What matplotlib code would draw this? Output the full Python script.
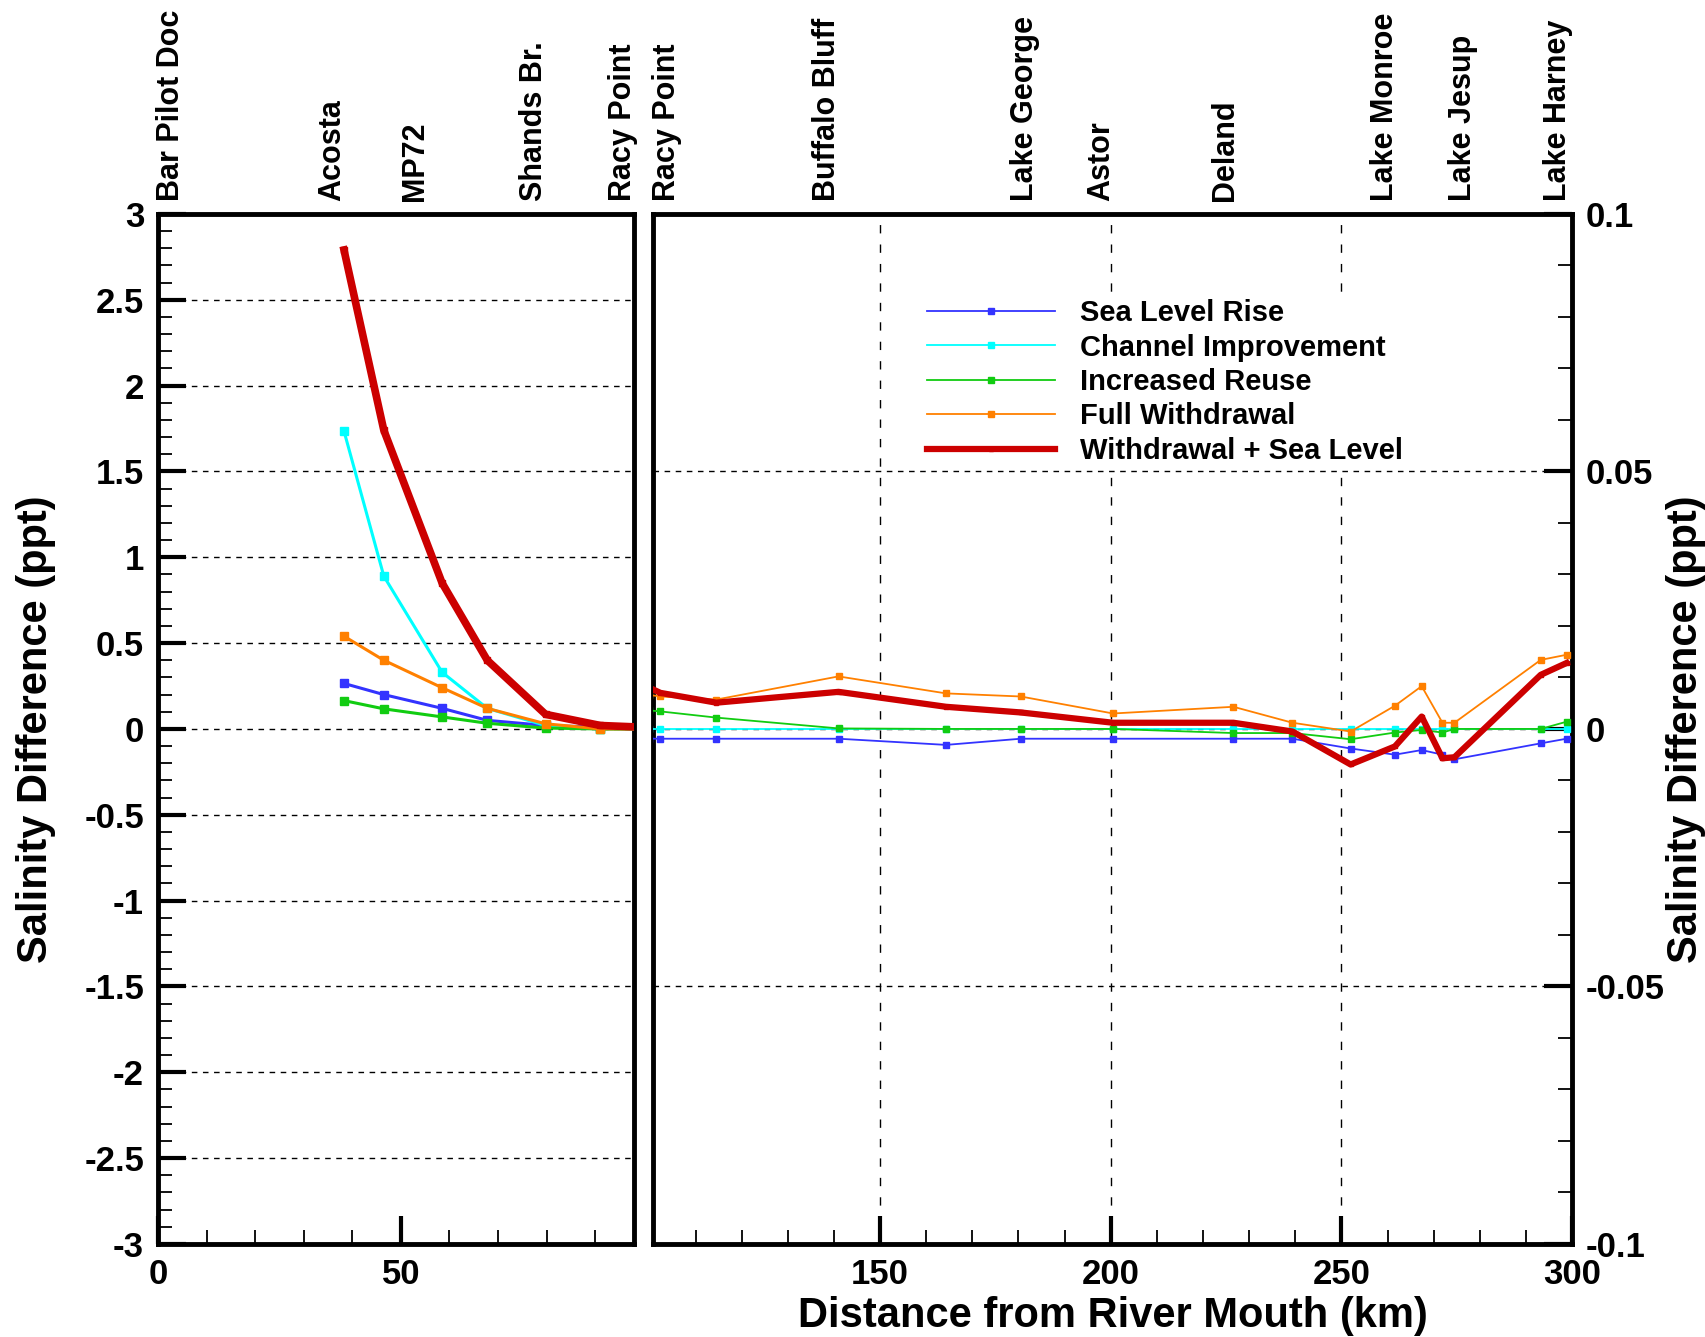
import matplotlib
matplotlib.use('Agg')
import matplotlib.pyplot as plt
from matplotlib.ticker import MultipleLocator, FixedLocator
from matplotlib import font_manager

names = {f.name for f in font_manager.fontManager.ttflist}
narrow = 'Liberation Sans Narrow' if 'Liberation Sans Narrow' in names else 'Liberation Sans'
plt.rcParams['font.family'] = [narrow, 'DejaVu Sans']
plt.rcParams['font.weight'] = 'bold'
plt.rcParams['axes.labelweight'] = 'bold'

# Lower estuary (left panel, ppt)
km_lower = [38.3, 46.5, 58.5, 67.8, 79.8, 91.1, 100.0]
sea_level_lower = [0.265, 0.20, 0.12, 0.05, 0.02, 0.01, 0.0]
channel_lower = [1.735, 0.89, 0.33, 0.12, 0.02, 0.0, 0.0]
reuse_lower = [0.165, 0.117, 0.07, 0.033, 0.005, 0.0, 0.0]
withdrawal_lower = [0.54, 0.40, 0.24, 0.12, 0.03, 0.0, 0.0]
wd_sea_lower = [2.79, 1.74, 0.85, 0.40, 0.085, 0.02, 0.01]

# Upper river (right panel, ppt)
km_upper = [100.0, 102.4, 114.5, 141.0, 164.3, 180.5, 200.5, 226.6, 239.4,
            252.0, 261.6, 267.4, 271.9, 274.5, 293.2, 298.8]
sea_level_upper = [-0.0019, -0.0019, -0.0019, -0.0019, -0.0031, -0.0019, -0.0019, -0.0019,
                   -0.0019, -0.0038, -0.0050, -0.0041, -0.0050, -0.0059, -0.0028, -0.0019]
channel_upper = [0.0] * 16
reuse_upper = [0.0036, 0.0034, 0.0022, 0.0001, 0.0, 0.0, 0.0, -0.0008,
               -0.0008, -0.0020, -0.0007, -0.0002, -0.0007, 0.0, 0.0, 0.0014]
withdrawal_upper = [0.0066, 0.0063, 0.0057, 0.0102, 0.0069, 0.0063, 0.0030, 0.0043,
                    0.0012, -0.0005, 0.0045, 0.0083, 0.0012, 0.0012, 0.0134, 0.0144]
wd_sea_upper = [0.0080, 0.0070, 0.0051, 0.0072, 0.0043, 0.0032, 0.0012, 0.0012,
                -0.0005, -0.0069, -0.0034, 0.0024, -0.0057, -0.0055, 0.0105, 0.0128]

stations_lower = ['Bar Pilot Doc', 'Acosta', 'MP72', 'Shands Br.', 'Racy Point']
station_km_lower = [2.7, 35.9, 52.9, 77.4, 95.7]
stations_upper = ['Racy Point', 'Buffalo Bluff', 'Lake George', 'Astor', 'Deland',
                  'Lake Monroe', 'Lake Jesup', 'Lake Harney']
station_km_upper = [103.8, 138.4, 181.4, 197.9, 224.8, 259.4, 276.4, 296.9]

labels = ['Sea Level Rise', 'Channel Improvement', 'Increased Reuse',
          'Full Withdrawal', 'Withdrawal + Sea Level']
colors = ['#3333ff', '#00ffff', '#11cc11', '#ff8000', '#cc0000']

fig = plt.figure(figsize=(17.06, 13.37), dpi=100)
axL = fig.add_axes([0.0926, 0.0696, 0.279, 0.7704])
axR = fig.add_axes([0.3828, 0.0696, 0.5387, 0.7704])

lower = [sea_level_lower, channel_lower, reuse_lower, withdrawal_lower, wd_sea_lower]
upper = [sea_level_upper, channel_upper, reuse_upper, withdrawal_upper, wd_sea_upper]
for i in range(5):
    thick = i == 4
    axL.plot(km_lower, lower[i], color=colors[i], lw=5.5 if thick else 2.2,
             marker='s', ms=4 if thick else 6, zorder=3 + (i == 4))
    axR.plot(km_upper, upper[i], color=colors[i], lw=4.5 if thick else 1.3,
             marker='s', ms=3 if thick else 5, label=labels[i], zorder=3 + (i == 4))

axL.set_xlim(0, 98)
axL.set_ylim(-3, 3)
axR.set_xlim(100.8, 300)
axR.set_ylim(-0.1, 0.1)

axL.xaxis.set_major_locator(FixedLocator([0, 50]))
axL.xaxis.set_minor_locator(MultipleLocator(10))
axL.yaxis.set_major_locator(MultipleLocator(0.5))
axL.yaxis.set_minor_locator(MultipleLocator(0.1))
axL.set_yticklabels([f'{v:g}' for v in axL.get_yticks()])
axR.xaxis.set_major_locator(FixedLocator([150, 200, 250, 300]))
axR.xaxis.set_minor_locator(MultipleLocator(10))
axR.yaxis.set_major_locator(MultipleLocator(0.05))
axR.yaxis.set_minor_locator(MultipleLocator(0.01))
axR.yaxis.tick_right()
axR.set_yticklabels([f'{v:g}' for v in axR.get_yticks()])

for ax in (axL, axR):
    ax.tick_params(which='major', direction='in', length=20, width=3, labelsize=25, pad=10)
    ax.tick_params(which='minor', direction='in', length=10, width=1.3)
    for s in ax.spines.values():
        s.set_linewidth(3.5)
axL.tick_params(axis='y', which='both', left=True, right=False)
axR.tick_params(axis='y', which='both', left=False, right=True)

axL.grid(axis='y', which='major', color='k', ls=(0, (4, 4)), lw=1)
axR.grid(axis='y', which='major', color='k', ls=(0, (4, 4)), lw=1)
axR.grid(axis='x', which='major', color='k', ls=(0, (6, 8)), lw=1)

axL.set_ylabel('Salinity Difference (ppt)', fontsize=30, labelpad=20)
axR.yaxis.set_label_position('right')
axR.set_ylabel('Salinity Difference (ppt)', fontsize=30, rotation=90, labelpad=1)
axR.set_xlabel('Distance from River Mouth (km)', fontsize=30, labelpad=4)

for ax, names_, kms in ((axL, stations_lower, station_km_lower),
                        (axR, stations_upper, station_km_upper)):
    for n, k in zip(names_, kms):
        ax.annotate(n, xy=(k, 1.0), xycoords=('data', 'axes fraction'),
                    xytext=(0, 9), textcoords='offset points', rotation=90,
                    ha='center', va='bottom', fontsize=22)

leg = axR.legend(loc='upper left', bbox_to_anchor=(0.295, 0.92), frameon=True,
                 facecolor='white', edgecolor='none', framealpha=1, fancybox=False,
                 prop={'family': 'Liberation Sans', 'weight': 'bold', 'size': 21},
                 handlelength=4.4, handletextpad=0.85, labelspacing=0.22,
                 borderpad=0.1, borderaxespad=0)
leg.set_zorder(10)

fig.savefig('out.png', dpi=100)
